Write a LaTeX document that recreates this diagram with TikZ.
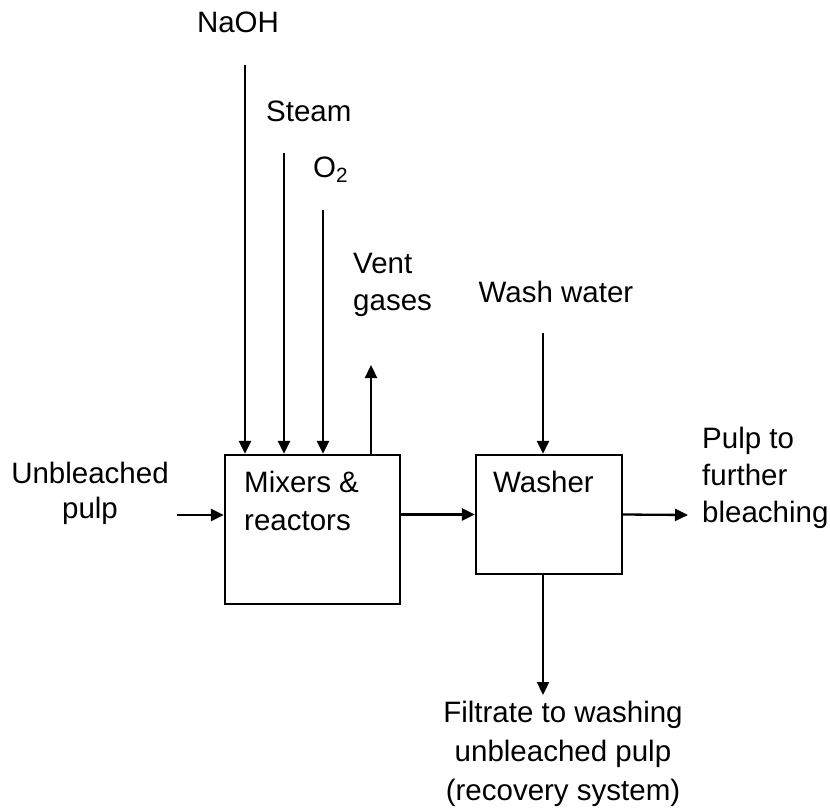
\documentclass[tikz,border=0pt]{standalone}
\usepackage{fontspec}
\setmainfont{Liberation Sans}
\usetikzlibrary{arrows.meta}
\begin{document}
\begin{tikzpicture}[x=1pt,y=-1pt,
  every node/.style={font=\fontsize{29.5}{37}\selectfont, inner sep=0pt},
  flow/.style={line width=2.3pt, -{Triangle[length=13pt,width=12pt]}},
  unitbox/.style={draw, line width=2.3pt},
  lbl/.style={anchor=base, align=center},
  lblw/.style={anchor=base west, align=left}]
\useasboundingbox (0,0) rectangle (830,811);
% units
\node[unitbox, minimum width=175pt, minimum height=149pt] (mix) at (312.5,529.5) {};
\node[unitbox, minimum width=146pt, minimum height=119pt] (wash) at (549,514.5) {};
\node[lblw, font=\fontsize{29.5}{38}\selectfont] (mixt) at (244,530) {Mixers \&\\reactors};
\node[lblw] (washt) at (493,492) {Washer};
% labels
\node[lbl] (naoh) at (238,32) {NaOH};
\node[lblw] (steam) at (266,121) {Steam};
\node[lblw] (otwo) at (313,177) {O\textsubscript{2}};
\node[lblw] (vent) at (353,310) {Vent\\gases};
\node[lbl] (ww) at (556,302) {Wash water};
\node[lbl, font=\fontsize{29.5}{35}\selectfont] (unb) at (90,518) {Unbleached\\pulp};
\node[lblw] (pout) at (702,522) {Pulp to\\further\\bleaching};
\node[lbl, font=\fontsize{29.5}{39}\selectfont] (filt) at (563,800) {Filtrate to washing\\unbleached pulp\\(recovery system)};
% connector ends
\coordinate (naohtop) at (245,65);
\coordinate (steamtop) at (284,153);
\coordinate (o2top) at (323,210);
\coordinate (venttip) at (371,365);
\coordinate (wwtop) at (543,333);
\coordinate (pin) at (177,515);
\coordinate (pend) at (688,515);
\coordinate (fend) at (543,695);
% connectors
\draw[flow] (naohtop) -- (naohtop |- mix.north);
\draw[flow] (steamtop) -- (steamtop |- mix.north);
\draw[flow] (o2top) -- (o2top |- mix.north);
\draw[flow] (venttip |- mix.north) -- (venttip);
\draw[flow] (pin) -- (pin -| mix.west);
\draw[flow] (wash.west -| mix.east) -- (wash.west);
\draw[flow] (wash.east) -- (pend);
\draw[flow] (wwtop) -- (wwtop |- wash.north);
\draw[flow] (fend |- wash.south) -- (fend);
\end{tikzpicture}
\end{document}
